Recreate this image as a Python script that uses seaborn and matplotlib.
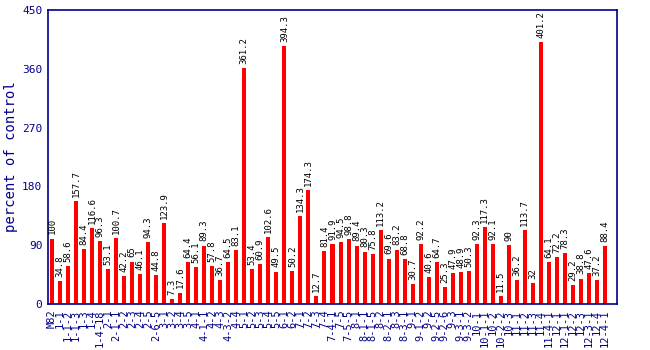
import matplotlib
matplotlib.use("Agg")
import matplotlib.pyplot as plt
import seaborn as sns
import pandas as pd

lines = ["M82", "1-1", "1-1-2", "1-1-3", "1-3", "1-4", "1-4-18", "2-1", "2-1-1", "2-2",
         "2-3", "2-4", "2-5", "2-6-5", "3-1", "3-2", "3-4", "3-5", "4-1", "4-1-1",
         "4-2", "4-3", "4-3-2", "4-4", "5-1", "5-2", "5-3", "5-4", "5-5", "6-1",
         "6-2", "7-1", "7-2", "7-3", "7-4", "7-4-1", "7-5", "7-5-5", "8-1", "8-1-1",
         "8-1-5", "8-2", "8-2-1", "8-3", "8-3-1", "9-1", "9-1-2", "9-2", "9-2-5", "9-2-6",
         "9-3", "9-3-1", "9-3-2", "10-1", "10-1-1", "10-2", "10-2-2", "10-3", "11-1", "11-2",
         "11-3", "11-4", "11-4-1", "12-1", "12-1-1", "12-2", "12-3", "12-3-1", "12-4", "12-4-1"]

values = [100, 34.8, 58.6, 157.7, 84.4, 116.6, 96.3, 53.1, 100.7, 42.2,
          65, 46.1, 94.3, 44.8, 123.9, 7.3, 17.6, 64.4, 56.1, 89.3,
          57.8, 36.7, 64.5, 83.1, 361.2, 53.4, 60.9, 102.6, 49.5, 394.3,
          50.2, 134.3, 174.3, 12.7, 81.4, 91.9, 94.5, 98.8, 89.4, 80.3,
          75.8, 113.2, 69.6, 83.2, 68.8, 30.7, 92.2, 40.6, 64.7, 25.3,
          47.9, 48.9, 50.3, 92.3, 117.3, 92.1, 11.5, 90, 36.2, 113.7,
          32, 401.2, 64.1, 72.2, 78.3, 29.2, 38.8, 47.6, 37.2, 88.4]

yticks = [0, 90, 180, 270, 360, 450]

navy = "#00008B"
df = pd.DataFrame({"line": lines, "value": values})

sns.set_style("white")
plt.rcParams["font.family"] = ["DejaVu Sans Mono", "DejaVu Sans"]

fig = plt.figure(figsize=(6.5, 3.5), dpi=100)
ax = fig.add_axes([48 / 650, 1 - 304 / 350, (617 - 48) / 650, (304 - 10) / 350])

sns.barplot(data=df, x="line", y="value", color="#FF0000", saturation=1,
            width=0.5, ax=ax, order=lines, linewidth=0)

ax.bar_label(ax.containers[0], labels=[f"{v:g}" for v in values], rotation=90,
             padding=3, fontsize=6.5, color="black")

ax.set_xlim(-0.5, len(lines) + 0.5)
ax.set_ylim(0, 450)
ax.set_yticks(yticks)
ax.set_yticklabels([str(t) for t in yticks], fontsize=8, color=navy)
ax.set_xticks(range(len(lines)))
ax.set_xticklabels(lines, rotation=90, fontsize=7.5, color=navy)
ax.tick_params(axis="both", direction="out", length=3, width=1, color=navy, pad=1)
ax.set_xlabel("")
ax.set_ylabel("percent of control", fontsize=10, color=navy)
ax.yaxis.set_label_coords(-0.052, 0.5)
for s in ax.spines.values():
    s.set_color(navy)
    s.set_linewidth(1.2)
    s.set_visible(True)

fig.savefig("out.png", dpi=100, facecolor="white")
